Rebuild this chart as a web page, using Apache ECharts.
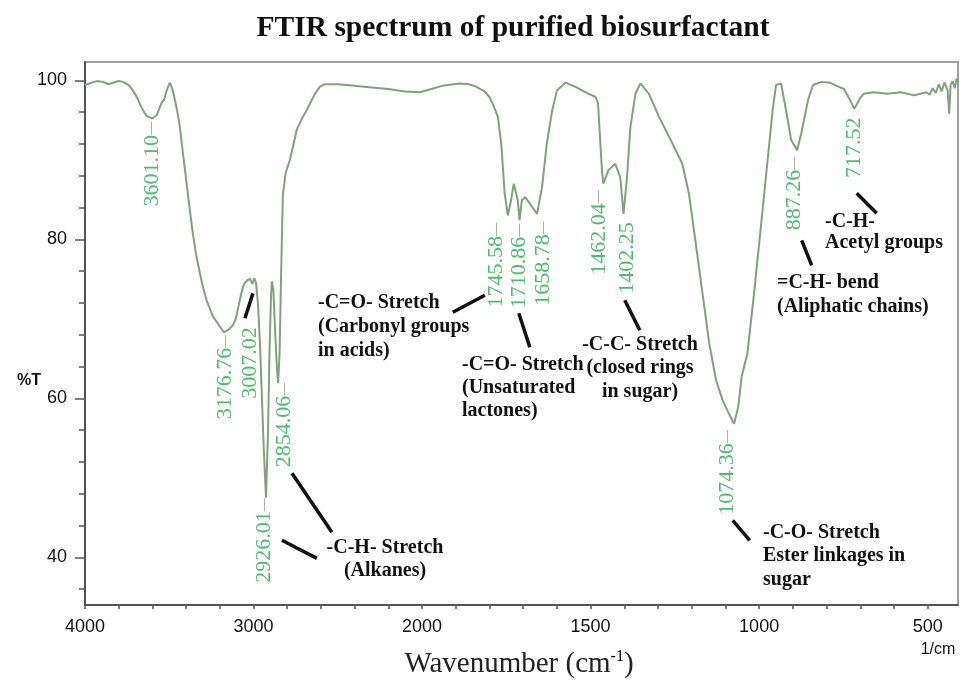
<!DOCTYPE html>
<html><head><meta charset="utf-8">
<script src="https://cdn.jsdelivr.net/npm/echarts@6/dist/echarts.min.js"></script>
<style>html,body{margin:0;padding:0;background:#fff}#c{width:965px;height:684px}</style>
</head><body><div id="c"></div>
<script>
// ---- data (wavenumber in cm-1, transmittance in %T) ----
const wavenumbers = [4000,3960,3930,3893,3860,3834,3800,3775,3740,3715,3690,3674,3650,3632,3601.10,3575,3560,3545,3530,3520,3505,3496,3480,3466,3450,3437,3417,3397,3380,3360,3340,3318,3298,3278,3241,3199,3176.76,3150,3122,3105,3090,3075,3063,3048,3033,3020,3007.02,2995,2985,2974,2962,2950,2940,2926.01,2915,2905,2896,2891,2882,2873,2862,2854.06,2845,2838,2832,2826,2810,2784,2760,2743,2710,2683,2650,2636,2606,2577,2500,2400,2300,2200,2100,2013,1980,1940,1888,1860,1840,1815,1800,1790,1775,1765,1755,1745.58,1736,1728,1716,1710.86,1704,1694,1674,1658.78,1644,1630,1614,1600,1575,1546,1516,1485,1478,1471,1466,1462.04,1447,1427,1412,1402.25,1392,1382,1367,1352,1327,1297,1267,1228,1208,1188,1168,1148,1128,1108,1090,1074.36,1062,1052,1035,1015,995,975,960,950,935,920,905,887.26,875,855,840,815,790,770,748,730,717.52,700,690,660,620,580,540,504,494,485,476,467,459,450,441,436,432,426,420,414,410];
const transmittance = [99.4,99.7,99.9,99.8,99.5,99.7,99.9,99.8,99.4,98.7,97.8,97.0,96.0,95.5,95.2,95.6,96.4,97.2,97.6,98.4,99.3,99.7,98.8,97.5,95.8,94.1,90.5,87.0,84.0,80.7,78.0,75.7,73.8,72.3,70.3,69.0,68.3,68.6,69.2,70.0,71.5,73.0,74.0,74.6,74.9,75.0,74.4,75.1,74.5,72.0,67.0,60.0,54.0,47.5,55.0,66.0,73.0,74.7,73.5,69.0,64.0,61.9,66.0,74.0,80.0,85.5,88.3,90.0,92.2,93.8,95.3,96.3,97.7,98.3,99.2,99.5,99.5,99.3,99.1,98.9,98.6,98.5,98.8,99.3,99.6,99.5,99.2,98.6,97.9,97.0,95.4,92.0,85.8,83.0,84.9,87.0,84.9,82.4,84.9,85.3,84.1,83.2,86.6,92.0,96.2,98.7,99.7,99.2,98.5,97.9,97.1,92.0,88.5,87.0,88.7,89.5,87.8,83.2,87.8,94.1,98.3,99.6,98.3,95.4,92.9,89.5,85.7,79.5,73.2,66.9,62.3,59.7,58.1,56.8,58.9,62.7,65.6,73.2,81.5,89.9,96.2,99.4,99.6,96.2,92.5,91.2,93.3,97.5,99.4,99.8,99.7,99.3,98.9,97.5,96.4,97.8,98.3,98.5,98.3,98.5,98.1,98.5,98.2,99.0,98.4,99.5,98.6,99.7,98.8,95.8,99.4,99.9,99.0,100.2,99.8];

const peakWavenumbers = [3601.10,3176.76,3007.02,2926.01,2854.06,1745.58,1710.86,1658.78,1462.04,1402.25,1074.36,887.26,717.52];
const peakTransmittance = [95.2,68.3,74.4,47.5,61.9,83.0,82.4,83.2,87.0,83.2,56.8,91.2,96.4];
const peakLabels = ['3601.10','3176.76','3007.02','2926.01','2854.06','1745.58','1710.86','1658.78','1462.04','1402.25','1074.36','887.26','717.52'];

const xTickLabels = [4000,3000,2000,1500,1000,500];
const xTickMarks = [4000,3800,3600,3400,3200,3000,2800,2600,2400,2200,2000,1900,1800,1700,1600,1500,1400,1300,1200,1100,1000,900,800,700,600,500];
const yTickLabels = [40,60,80,100];
const yMinorTicks = [36,44,48,52,56,64,68,72,76,84,88,92,96];

// ---- annotation layout (separate from data) ----
// label offsets in px: [dx, dy] from the peak point; dash shown or not
const peakLabelLayout = [[0,4,1],[2,3,1],[-2,44,0],[-1,1,1],[7,0,1],[-11,8,1],[0,4,1],[7,8,1],[-4,7,1],[4,9,0],[-6,7,1],[-2,7,1],[0,9,0]];
const leaderLines = [
  [3051,70.06,3003.6,73.2],[2772,50.57,2535,43.14],[2831.6,42.14,2624,39.87],
  [1908.7,70.82,1813.8,72.96],[1712.9,70.69,1680.3,66.42],[1398.6,72.33,1354.1,68.55],
  [1078.3,44.65,1027.9,42.14],[873.7,79.87,844,76.73],[710.5,85.79,651.2,83.27]
];

// piecewise wavenumber scale (scale doubles below 2000 cm-1)
function toU(w){ return w >= 2000 ? (4000 - w) / 2 : 1000 + (2000 - w); }
function fromU(u){ return u <= 1000 ? 4000 - 2 * u : 3000 - u; }

const chart = echarts.init(document.getElementById('c'), null, {renderer:'canvas'});
const serif = '"Liberation Serif","Times New Roman",serif';
const sans = '"Liberation Sans",Arial,sans-serif';

const spectrum = wavenumbers.map((w,i)=>[toU(w), transmittance[i]]);
const peaks = peakWavenumbers.map((w,i)=>{
  const L = peakLabelLayout[i];
  return {
    value:[toU(w), peakTransmittance[i]],
    label:{
      show:true, position:[0,0], rotate:90, align:'right', verticalAlign:'middle',
      offset:[-L[1], L[0]],
      formatter: L[2] ? '{v|'+peakLabels[i]+'}{d|—}' : '{v|'+peakLabels[i]+'}',
      rich:{
        v:{fontFamily:serif, fontSize:22, color:'#2aa64c'},
        d:{fontFamily:sans, fontSize:13, color:'#7d9e7a'}
      }
    }
  };
});

const annoFont = 'bold 20px ' + serif;
function annoText(x, y, text, align, lh){
  return {type:'text', x:x, y:y, z:50, style:{text:text, font:annoFont, fill:'#111', align:align||'left', verticalAlign:'top', lineHeight:lh||24}};
}

chart.setOption({
  animation:false,
  backgroundColor:'#fff',
  grid:{left:85, right:7, top:62, bottom:79, show:true, borderColor:'#a0a0a0', borderWidth:2, containLabel:false},
  xAxis:{
    type:'value', min:0, max:2590,
    axisLine:{show:true, onZero:false, lineStyle:{color:'#555', width:2}},
    axisTick:{show:true, customValues:xTickMarks.map(toU), length:4, lineStyle:{color:'#555', width:1.5}},
    axisLabel:{customValues:xTickLabels.map(toU), formatter:v=>String(Math.round(fromU(v))), fontFamily:sans, fontSize:18, color:'#111', margin:13},
    splitLine:{show:false}
  },
  yAxis:[
    {type:'value', min:34, max:102.3,
     axisLine:{show:true, lineStyle:{color:'#555', width:2}},
     axisTick:{show:true, customValues:yTickLabels, length:10, lineStyle:{color:'#555', width:1.5}},
     axisLabel:{customValues:yTickLabels, fontFamily:sans, fontSize:18, color:'#111', margin:18},
     splitLine:{show:false}},
    {type:'value', min:34, max:102.3, position:'left',
     axisLine:{show:false},
     axisTick:{show:true, customValues:yMinorTicks, length:6, lineStyle:{color:'#555', width:1.5}},
     axisLabel:{show:false}, splitLine:{show:false}}
  ],
  series:[
    {type:'line', data:spectrum, showSymbol:false, symbol:'none', smooth:false, z:3,
     lineStyle:{color:'#82a07f', width:2}},
    {type:'scatter', data:peaks, symbolSize:1, itemStyle:{color:'rgba(0,0,0,0)'}, z:4,
     markLine:{silent:true, symbol:['none','none'], label:{show:false},
       lineStyle:{color:'#111', width:3.5, type:'solid'},
       data:leaderLines.map(l=>[{coord:[toU(l[0]), l[1]]},{coord:[toU(l[2]), l[3]]}])}}
  ],
  graphic:[
    {type:'text', x:513, y:28, style:{text:'FTIR spectrum of purified biosurfactant', font:'bold 29.5px '+serif, fill:'#111', align:'center', verticalAlign:'middle'}},
    {type:'text', x:29, y:381, style:{text:'%T', font:'bold 16px '+sans, fill:'#111', align:'center', verticalAlign:'middle'}},
    {type:'text', x:938, y:650, style:{text:'1/cm', font:'16px '+sans, fill:'#111', align:'center', verticalAlign:'middle'}},
    {type:'text', x:519, y:664, style:{text:'{a|Wavenumber (cm}{b|-1}{a|)}', align:'center', verticalAlign:'middle',
      rich:{a:{fontFamily:serif, fontSize:29, fill:'#222', color:'#222'}, b:{fontFamily:serif, fontSize:16, color:'#222', padding:[0,0,14,0]}}}},
    annoText(318, 291, '-C=O- Stretch\n(Carbonyl groups\nin acids)', 'left', 24),
    annoText(462, 353, '-C=O- Stretch\n(Unsaturated\nlactones)', 'left', 23),
    annoText(640, 333, '-C-C- Stretch\n(closed rings\nin sugar)', 'center', 23.5),
    annoText(385, 536, '-C-H- Stretch\n(Alkanes)', 'center', 23),
    annoText(763, 521, '-C-O- Stretch\nEster linkages in\nsugar', 'left', 23.5),
    annoText(777, 271, '=C-H- bend\n(Aliphatic chains)', 'left', 24),
    annoText(825, 211, '-C-H-\nAcetyl groups', 'left', 21)
  ]
});
</script></body></html>
